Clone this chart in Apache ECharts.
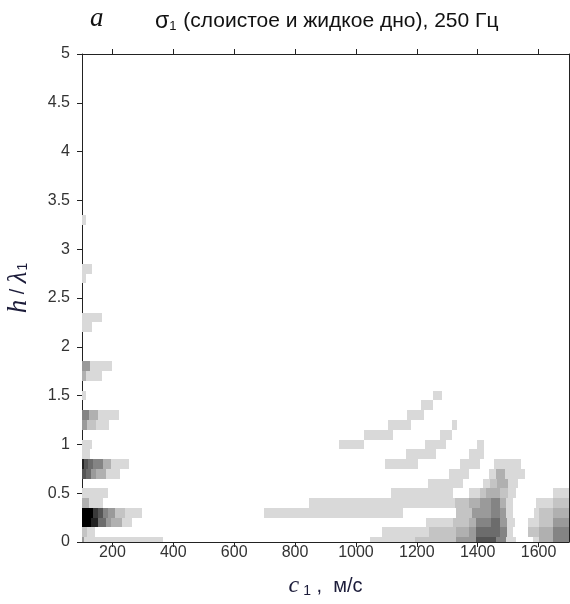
<!DOCTYPE html>
<html><head><meta charset="utf-8">
<script src="https://cdn.jsdelivr.net/npm/echarts@6/dist/echarts.min.js"></script>
<style>html,body{margin:0;padding:0;background:#fff;}#c{width:570px;height:604px;}</style>
</head><body><div id="c"></div>
<script>
// axis ticks
const xTicks = [200, 400, 600, 800, 1000, 1200, 1400, 1600];
const yTicks = [0, 0.5, 1, 1.5, 2, 2.5, 3, 3.5, 4, 4.5, 5];
// grey levels (index = level)
const levelColors = ['#ffffff','#d9d9d9','#c4c4c4','#b0b0b0','#9a9a9a','#848484','#6c6c6c','#555555','#3a3a3a','#222222','#000000'];
// cells: [h/lambda row, c1 start, c1 end, level]
const cellsLeft = [
  [3.3,100,114,1],
  [2.8,100,134,1],[2.7,100,114,1],
  [2.3,100,167,1],[2.2,100,134,1],
  [1.8,100,125,4],[1.8,125,197,1],
  [1.7,100,114,3],[1.7,114,167,1],
  [1.5,100,113,1],
  [1.3,100,124,5],[1.3,124,152,3],[1.3,152,222,1],
  [1.2,100,117,4],[1.2,117,145,2],[1.2,145,190,1],
  [1.0,100,134,1],[0.9,100,125,1],
  [0.8,100,108,9],[0.8,108,119,7],[0.8,119,136,6],[0.8,136,168,5],[0.8,168,196,3],[0.8,196,255,1],
  [0.7,100,113,7],[0.7,113,129,6],[0.7,129,146,4],[0.7,146,180,3],[0.7,180,226,1],
  [0.5,100,187,1],
  [0.4,100,124,3],[0.4,124,168,1],
  [0.3,100,135,10],[0.3,135,152,8],[0.3,152,168,7],[0.3,168,187,5],[0.3,187,209,4],[0.3,209,240,2],[0.3,240,297,1],
  [0.2,100,130,10],[0.2,130,152,9],[0.2,152,179,6],[0.2,179,196,4],[0.2,196,230,3],[0.2,230,264,1],
  [0.1,100,118,2],[0.1,118,144,1],
  [0.0,100,108,4],[0.0,108,365,1]
];
const cellsRight = [
  [1.5,1253,1284,1],
  [1.4,1215,1253,1],
  [1.3,1167,1222,1],
  [1.2,1105,1182,1],[1.2,1315,1333,1],
  [1.1,1026,1121,1],[1.1,1277,1315,1],
  [1.0,944,1026,1],[1.0,1226,1297,1],[1.0,1398,1422,1],
  [0.9,1165,1264,1],[0.9,1371,1422,1],
  [0.8,1094,1203,1],[0.8,1343,1406,1],[0.8,1455,1543,1],
  [0.7,1305,1373,1],[0.7,1437,1461,1],[0.7,1461,1491,3],[0.7,1491,1554,1],
  [0.6,1236,1351,1],[0.6,1417,1439,1],[0.6,1439,1463,2],[0.6,1463,1499,3],[0.6,1499,1532,1],
  [0.5,1116,1318,1],[0.5,1373,1406,1],[0.5,1406,1428,2],[0.5,1428,1472,3],[0.5,1472,1499,2],[0.5,1499,1527,1],[0.5,1647,1700,1],
  [0.4,845,1324,1],[0.4,1324,1373,2],[0.4,1373,1406,3],[0.4,1406,1444,4],[0.4,1444,1472,5],[0.4,1472,1494,3],[0.4,1494,1516,1],[0.4,1592,1647,1],[0.4,1647,1700,2],
  [0.3,697,1154,1],[0.3,1330,1380,2],[0.3,1380,1444,4],[0.3,1444,1472,5],[0.3,1472,1494,4],[0.3,1494,1516,1],[0.3,1585,1600,1],[0.3,1600,1647,2],[0.3,1647,1700,3],
  [0.2,1230,1318,1],[0.2,1318,1373,2],[0.2,1373,1395,3],[0.2,1395,1444,5],[0.2,1444,1472,6],[0.2,1472,1496,4],[0.2,1496,1521,1],[0.2,1565,1600,1],[0.2,1600,1647,2],[0.2,1647,1700,4],
  [0.1,1086,1240,1],[0.1,1240,1330,2],[0.1,1330,1373,3],[0.1,1373,1395,4],[0.1,1395,1472,6],[0.1,1472,1496,5],[0.1,1496,1516,1],[0.1,1565,1600,2],[0.1,1600,1647,3],[0.1,1647,1700,5],
  [0.0,1045,1193,1],[0.0,1193,1329,2],[0.0,1329,1395,4],[0.0,1395,1461,7],[0.0,1461,1494,5],[0.0,1494,1527,1],[0.0,1581,1603,1],[0.0,1603,1647,3],[0.0,1647,1700,5]
];
const rowHalf = 0.05;

const chart = echarts.init(document.getElementById('c'), null, {renderer:'canvas'});
const axisCol = '#222';
const nameCol = '#1c1c3a';
const labelStyle = {color:'#333', fontFamily:'Liberation Sans, Arial', fontSize:16};
const opt = {
  animation:false,
  backgroundColor:'#fff',
  title:[
    {text:'a', left:85, top:0, textStyle:{fontFamily:'Liberation Serif, Times New Roman', fontStyle:'italic', fontWeight:'normal', fontSize:27, color:'#111'}},
    {text:'{s|σ}{sub|1}{n| (слоистое и жидкое дно), 250 Гц}', left:150, top:5,
     textStyle:{fontWeight:'normal', rich:{
       s:{fontFamily:'Liberation Sans, Arial', fontWeight:'normal', fontSize:23, color:'#111'},
       sub:{fontFamily:'Liberation Sans, Arial', fontWeight:'normal', fontSize:13, color:'#111', padding:[10,1,0,0]},
       n:{fontFamily:'Liberation Sans, Arial', fontWeight:'normal', fontSize:21, color:'#111'}
     }}}
  ],
  grid:{left:82, right:1, top:54, bottom:62, containLabel:false, outerBoundsMode:'none'},
  xAxis:[
    {type:'value', min:100, max:1700, interval:100, position:'bottom',
     axisLine:{show:true, onZero:false, lineStyle:{color:axisCol}},
     axisTick:{show:true, length:5, inside:false, lineStyle:{color:axisCol}, customValues: xTicks},
     axisLabel:Object.assign({margin:3, customValues: xTicks, formatter:v=>String(v)}, labelStyle),
     splitLine:{show:false},
     name:'{i|c}{sub|1}{n| ,  м/с}', nameLocation:'middle', nameGap:32,
     nameTextStyle:{rich:{
       i:{fontFamily:'Liberation Serif, Times New Roman', fontStyle:'italic', fontSize:24, color:nameCol},
       sub:{fontFamily:'Liberation Sans, Arial', fontSize:14, color:nameCol, padding:[10,0,0,4]},
       n:{fontFamily:'Liberation Sans, Arial', fontSize:20, color:nameCol}
     }}},
    {type:'value', min:100, max:1700, interval:100, position:'top',
     axisLine:{show:true, onZero:false, lineStyle:{color:axisCol}},
     axisTick:{show:true, length:5, inside:false, lineStyle:{color:axisCol}, customValues: xTicks},
     axisLabel:{show:false}, splitLine:{show:false}}
  ],
  yAxis:[
    {type:'value', min:0, max:5, interval:0.5, position:'left',
     axisLine:{show:true, onZero:false, lineStyle:{color:axisCol}},
     axisTick:{show:true, length:5, lineStyle:{color:axisCol}, customValues: yTicks},
     axisLabel:Object.assign({margin:12, customValues: yTicks, formatter:v=>String(v)}, labelStyle),
     splitLine:{show:false},
     name:'{i|h}{n| / }{i|λ}{sub|1}', nameLocation:'middle', nameGap:50,
     nameTextStyle:{padding:[0,0,0,20], rich:{
       i:{fontFamily:'Liberation Serif, Times New Roman', fontStyle:'italic', fontSize:27, color:nameCol},
       sub:{fontFamily:'Liberation Sans, Arial', fontSize:14, color:nameCol, padding:[10,0,0,1]},
       n:{fontFamily:'Liberation Sans, Arial', fontSize:20, color:nameCol}
     }}},
    {type:'value', min:0, max:5, interval:0.5, position:'right',
     axisLine:{show:true, onZero:false, lineStyle:{color:axisCol}},
     axisTick:{show:false}, axisLabel:{show:false}, splitLine:{show:false}}
  ],
  series:[cellsLeft, cellsRight].map(cells => ({
    type:'custom', xAxisIndex:0, yAxisIndex:0,
    encode:{x:[1,2], y:0},
    data:cells,
    clip:true,
    renderItem:function(params, api){
      const h = api.value(0), c0 = api.value(1), c1 = api.value(2), lvl = api.value(3);
      const p0 = api.coord([c0, h + rowHalf]);
      const p1 = api.coord([c1, h - rowHalf]);
      const x0 = Math.round(p0[0]), x1 = Math.round(p1[0]);
      const y0 = Math.round(p0[1]), y1 = Math.round(p1[1]);
      const rect = echarts.graphic.clipRectByRect(
        {x:x0, y:y0, width:x1-x0, height:y1-y0},
        {x:params.coordSys.x, y:params.coordSys.y, width:params.coordSys.width, height:params.coordSys.height});
      if (!rect) return;
      return {type:'rect', shape:rect, style:{fill:levelColors[lvl], stroke:null}};
    }
  }))
};
chart.setOption(opt);
</script></body></html>
